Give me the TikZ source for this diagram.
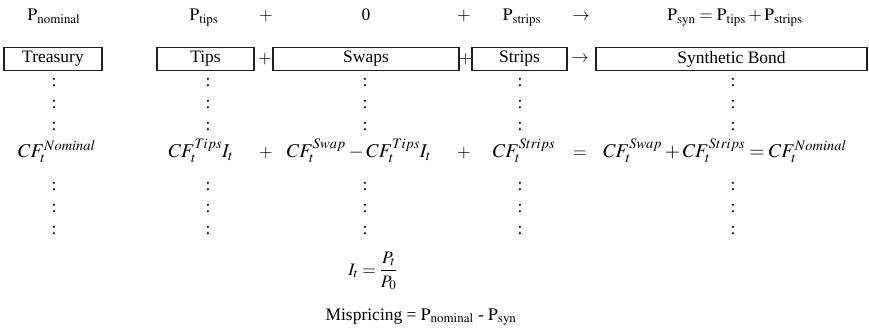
\documentclass[tikz,border=0pt]{standalone}
\usepackage{mathptmx}
\usepackage{fontspec}
\setmainfont{Liberation Serif}

\begin{document}
\begin{tikzpicture}[x=1pt, y=-1pt, font=\fontsize{17.5}{21}\selectfont,
    box/.style={draw=borderColour, line width=1.8pt, minimum height=23pt, inner sep=0pt},
    lbl/.style={inner sep=0pt, anchor=base},
    cf/.style={lbl, font=\fontsize{19.5}{23}\selectfont},
    dots/.style={inner sep=0pt}]
    % Define colours
    \definecolor{borderColour}{HTML}{231F20}

    % Fix the page size
    \useasboundingbox (0,0) rectangle (869,331);

    % Draw the price labels
    \node[lbl] (pNominal) at (54,21) {$\mathrm{P}_{\mathrm{nominal}}$};
    \node[lbl] (pTips) at (204,21) {$\mathrm{P}_{\mathrm{tips}}$};
    \node[lbl] (plusTopA) at (266,21) {$+$};
    \node[lbl] (pSwaps) at (366,21) {0};
    \node[lbl] (plusTopB) at (464,21) {$+$};
    \node[lbl] (pStrips) at (522,21) {$\mathrm{P}_{\mathrm{strips}}$};
    \node[lbl] (arrowTop) at (581,21) {$\rightarrow$};
    \node[lbl] (pSyn) at (735,21) {$\mathrm{P}_{\mathrm{syn}} = \mathrm{P}_{\mathrm{tips}} + \mathrm{P}_{\mathrm{strips}}$};

    % Draw the boxes
    \node[box, minimum width=98pt] (treasury) at (53,59) {Treasury};
    \node[box, minimum width=97pt] (tips) at (205.5,59) {Tips};
    \node[inner sep=0pt] (plusBoxA) at (265,59) {$+$};
    \node[box, minimum width=186pt] (swaps) at (366,59) {Swaps};
    \node[inner sep=0pt] (plusBoxB) at (465.5,59) {$+$};
    \node[box, minimum width=95pt] (strips) at (519.5,59) {Strips};
    \node[inner sep=0pt] (arrowBox) at (580,59) {$\rightarrow$};
    \node[box, minimum width=271pt] (synBond) at (731.5,59) {Synthetic Bond};

    % Draw the dots under each column
    \foreach \colX/\colName in {54/treasury, 208/tips, 365/swaps, 520/strips, 733/synBond}
        \foreach \rowY [count=\i] in {83,105,127,187,209,231}
            \node[dots] (\colName-\i) at (\colX,\rowY) {:};

    % Draw the cash flow row
    \node[cf] (cfNominal) at (57,158) {$CF_t^{Nominal}$};
    \node[cf] (cfTips) at (201,158) {$CF_t^{Tips} I_t$};
    \node[lbl] (plusCfA) at (266,158) {$+$};
    \node[cf] (cfSwap) at (359,158) {$CF_t^{Swap} - CF_t^{Tips} I_t$};
    \node[lbl] (plusCfB) at (464,158) {$+$};
    \node[cf] (cfStrips) at (524,158) {$CF_t^{Strips}$};
    \node[lbl] (equalCf) at (580,158) {$=$};
    \node[cf] (cfSyn) at (725,158) {$CF_t^{Swap} + CF_t^{Strips} = CF_t^{Nominal}$};

    % Draw the index ratio and the mispricing
    \node[inner sep=0pt] (indexRatio) at (373,271) {$\displaystyle I_t = \frac{P_t}{P_0}$};
    \node[lbl] (mispricing) at (421,320) {Mispricing = $\mathrm{P}_{\mathrm{nominal}}$ - $\mathrm{P}_{\mathrm{syn}}$};

\end{tikzpicture}
\end{document}
